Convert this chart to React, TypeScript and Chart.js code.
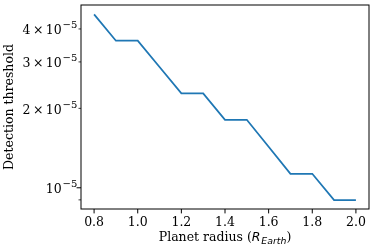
import React, { useEffect, useRef } from "react";
import { Chart, registerables } from "chart.js";

Chart.register(...registerables);

const radius = [0.8, 0.9, 1.0, 1.1, 1.2, 1.3, 1.4, 1.5, 1.6, 1.7, 1.8, 1.9, 2.0];
const threshold = [
  4.54e-5, 3.61e-5, 3.61e-5, 2.87e-5, 2.28e-5, 2.28e-5, 1.81e-5, 1.81e-5,
  1.43e-5, 1.13e-5, 1.13e-5, 8.98e-6, 8.98e-6,
];
const xTicks = [0.8, 1.0, 1.2, 1.4, 1.6, 1.8, 2.0];
const xTickLabels = ["0.8", "1.0", "1.2", "1.4", "1.6", "1.8", "2.0"];
const yTicks = [9e-6, 1e-5, 2e-5, 3e-5, 4e-5];
// [mantissa, base, exponent]
const yTickLabels: [string, string, string][] = [
  ["", "", ""],
  ["", "10", "\u22125"],
  ["2", "10", "\u22125"],
  ["3", "10", "\u22125"],
  ["4", "10", "\u22125"],
];
const yMajor = [false, true, false, false, false];
const yTitle = "Detection threshold";
const xTitleParts = ["Planet radius (", "R", "Earth", ")"];

const SERIF = "'DejaVu Serif', serif";
const SANS = "'DejaVu Sans', sans-serif";
const FS = 12.5;

export default function App() {
  const ref = useRef<HTMLCanvasElement>(null);

  useEffect(() => {
    document.body.style.margin = "0";
    const canvas = ref.current;
    if (!canvas) return;

    const mplPlugin = {
      id: "mplDecor",
      afterDraw(chart: any) {
        const ctx = chart.ctx as CanvasRenderingContext2D;
        const a = chart.chartArea;
        const xs = chart.scales.x;
        const ys = chart.scales.y;
        ctx.save();
        ctx.strokeStyle = "#000";
        ctx.lineWidth = 1;
        ctx.strokeRect(a.left, a.top, a.right - a.left, a.bottom - a.top);
        const line = (x1: number, y1: number, x2: number, y2: number) => {
          ctx.beginPath();
          ctx.moveTo(x1, y1);
          ctx.lineTo(x2, y2);
          ctx.stroke();
        };
        ctx.fillStyle = "#000";

        // x ticks + labels
        ctx.font = `${FS}px ${SERIF}`;
        ctx.textAlign = "center";
        ctx.textBaseline = "alphabetic";
        xTicks.forEach((v, i) => {
          const px = xs.getPixelForValue(v);
          ctx.lineWidth = 1;
          line(px, a.bottom, px, a.bottom + 4.4);
          ctx.fillText(xTickLabels[i], px, a.bottom + 17.3);
        });

        // y ticks + labels
        const baseFont = `${FS}px ${SERIF}`;
        const supFont = `${FS * 0.8}px ${SERIF}`;
        const gap = 2.5;
        yTicks.forEach((v, i) => {
          const py = ys.getPixelForValue(v);
          const l = yMajor[i] ? 4.4 : 2.5;
          ctx.lineWidth = yMajor[i] ? 1 : 0.75;
          line(a.left - l, py, a.left, py);
          const [mant, base, exp] = yTickLabels[i];
          if (!base) return;
          ctx.font = baseFont;
          const wMant = mant ? ctx.measureText(mant).width : 0;
          const wTimes = mant ? ctx.measureText("\u00D7").width : 0;
          const wBase = ctx.measureText(base).width;
          ctx.font = supFont;
          const wExp = ctx.measureText(exp).width;
          const pieces = mant ? wMant + gap + wTimes + gap : 0;
          const total = pieces + wBase + 0.8 + wExp;
          const right = a.left - 3.7;
          let x = right - total;
          const baseline = py + 5.2;
          ctx.textAlign = "left";
          ctx.font = baseFont;
          if (mant) {
            ctx.fillText(mant, x, baseline);
            x += wMant + gap;
            ctx.fillText("\u00D7", x, baseline);
            x += wTimes + gap;
          }
          ctx.fillText(base, x, baseline);
          x += wBase + 0.8;
          ctx.font = supFont;
          ctx.fillText(exp, x, baseline - 6);
        });

        // y title
        ctx.save();
        ctx.font = `${FS}px ${SERIF}`;
        ctx.translate(10, (a.top + a.bottom) / 2);
        ctx.rotate(-Math.PI / 2);
        ctx.textAlign = "center";
        ctx.textBaseline = "middle";
        ctx.fillText(yTitle, 0, 0);
        ctx.restore();

        // x title with math subscript
        const segs = [
          { t: xTitleParts[0], f: `${FS}px ${SERIF}`, dy: 0 },
          { t: xTitleParts[1], f: `italic ${FS}px ${SANS}`, dy: 0 },
          { t: xTitleParts[2], f: `italic ${FS * 0.75}px ${SANS}`, dy: 2.6 },
          { t: xTitleParts[3], f: `${FS}px ${SERIF}`, dy: 0 },
        ];
        let total = 0;
        const widths = segs.map((s) => {
          ctx.font = s.f;
          const w = ctx.measureText(s.t).width + (s.t === "R" ? 0.8 : 0);
          total += w;
          return w;
        });
        let x = (a.left + a.right) / 2 - total / 2;
        const baseY = 241;
        ctx.textAlign = "left";
        ctx.textBaseline = "alphabetic";
        segs.forEach((s, i) => {
          ctx.font = s.f;
          ctx.fillText(s.t, x, baseY + s.dy);
          x += widths[i];
        });
        ctx.restore();
      },
    };

    const chart = new Chart(canvas, {
      type: "line",
      data: {
        datasets: [
          {
            data: radius.map((x, i) => ({ x, y: threshold[i] })),
            borderColor: "#1f77b4",
            borderWidth: 1.8,
            pointRadius: 0,
            tension: 0,
            fill: false,
          },
        ],
      },
      options: {
        animation: false,
        responsive: false,
        layout: { padding: { top: 5, right: 5, left: 0, bottom: 0 } },
        plugins: { legend: { display: false }, tooltip: { enabled: false } },
        scales: {
          x: {
            type: "linear",
            min: 0.74,
            max: 2.06,
            afterBuildTicks: (s: any) => {
              s.ticks = xTicks.map((v) => ({ value: v }));
            },
            afterFit: (s: any) => {
              s.height = 40;
            },
            grid: { display: false, drawTicks: false },
            border: { display: false },
            ticks: { display: false },
          },
          y: {
            type: "logarithmic",
            min: 8.31e-6,
            max: 4.93e-5,
            afterBuildTicks: (s: any) => {
              s.ticks = yTicks.map((v) => ({ value: v, major: false }));
            },
            afterFit: (s: any) => {
              s.width = 81;
            },
            grid: { display: false, drawTicks: false },
            border: { display: false },
            ticks: { display: false },
          },
        },
      },
      plugins: [mplPlugin],
    });

    return () => chart.destroy();
  }, []);

  return (
    <div style={{ width: 374, height: 249 }}>
      <canvas ref={ref} width={374} height={249} style={{ display: "block", width: 374, height: 249 }} />
    </div>
  );
}
